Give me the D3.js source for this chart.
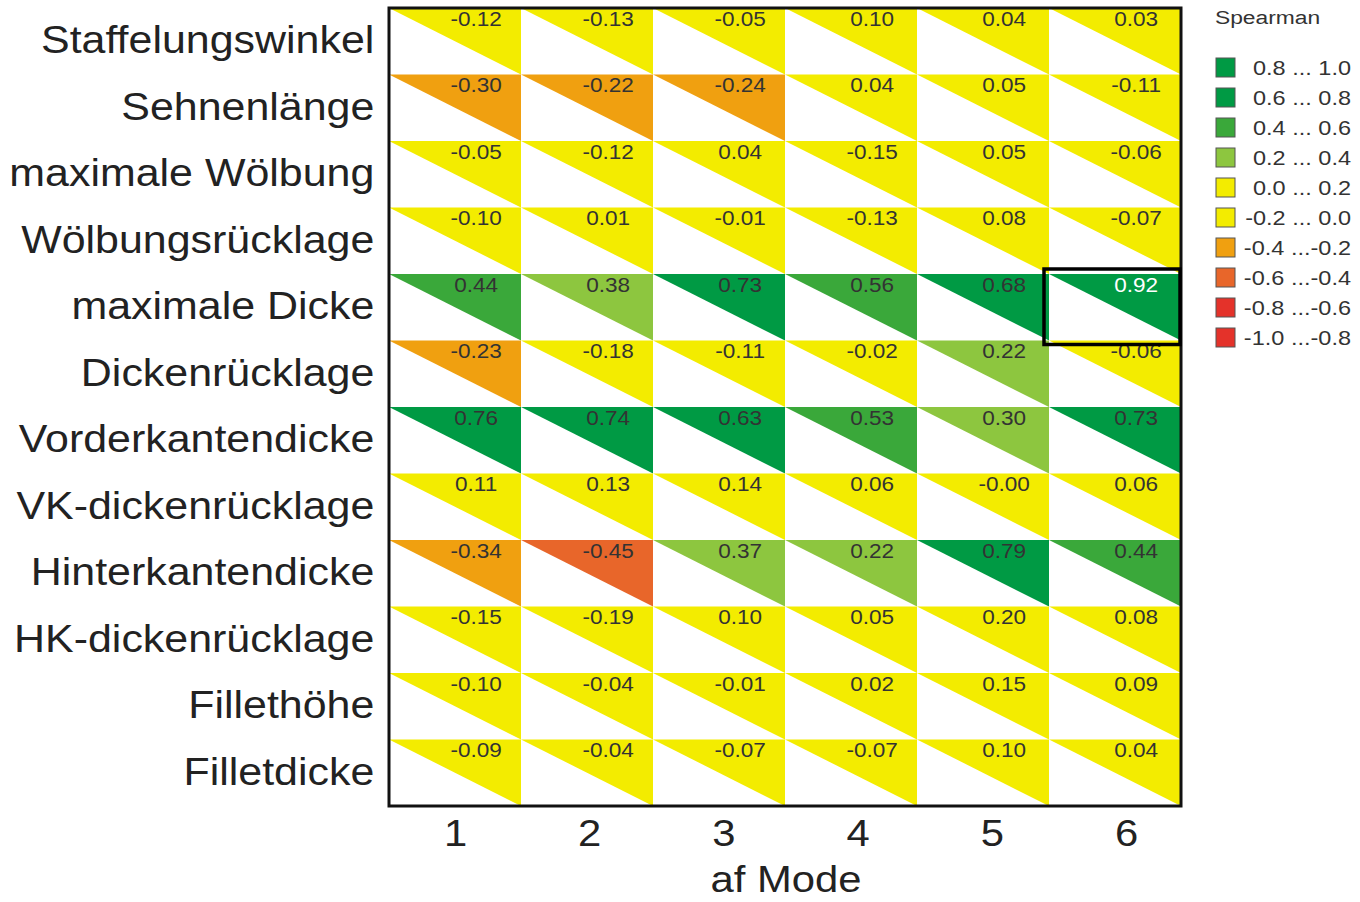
<!DOCTYPE html>
<html><head><meta charset="utf-8">
<script src="https://cdn.jsdelivr.net/npm/d3@7"></script>
<style>body{margin:0;background:#fff;}svg{display:block;font-family:"Liberation Sans",Arial,Helvetica,sans-serif;}</style>
</head><body><div id="chart"></div>
<script>
const modes = ["1","2","3","4","5","6"];
const params = ["Staffelungswinkel","Sehnenlänge","maximale Wölbung","Wölbungsrücklage","maximale Dicke","Dickenrücklage","Vorderkantendicke","VK-dickenrücklage","Hinterkantendicke","HK-dickenrücklage","Fillethöhe","Filletdicke"];
const values = [
  [-0.12,-0.13,-0.05,0.10,0.04,0.03],
  [-0.30,-0.22,-0.24,0.04,0.05,-0.11],
  [-0.05,-0.12,0.04,-0.15,0.05,-0.06],
  [-0.10,0.01,-0.01,-0.13,0.08,-0.07],
  [0.44,0.38,0.73,0.56,0.68,0.92],
  [-0.23,-0.18,-0.11,-0.02,0.22,-0.06],
  [0.76,0.74,0.63,0.53,0.30,0.73],
  [0.11,0.13,0.14,0.06,-0.00,0.06],
  [-0.34,-0.45,0.37,0.22,0.79,0.44],
  [-0.15,-0.19,0.10,0.05,0.20,0.08],
  [-0.10,-0.04,-0.01,0.02,0.15,0.09],
  [-0.09,-0.04,-0.07,-0.07,0.10,0.04]
];
const legendLabels = ["0.8 ... 1.0","0.6 ... 0.8","0.4 ... 0.6","0.2 ... 0.4","0.0 ... 0.2","-0.2 ... 0.0","-0.4 ...-0.2","-0.6 ...-0.4","-0.8 ...-0.6","-1.0 ...-0.8"];
const legendColors = ["#009a44","#009a44","#3aa83a","#8dc63f","#f3ec00","#f3ec00","#f0a010","#e8662a","#e4322a","#e4322a"];
const binUpper = [1.0,0.8,0.6,0.4,0.2,0.0,-0.2,-0.4,-0.6,-0.8];
const highlight = {row:"maximale Dicke", col:"6"};

const W=1360,H=902, SX=1.13;
const svg=d3.select("#chart").append("svg").attr("width",W).attr("height",H);
const m={l:389,r:1181,t:8,b:806};
const x=d3.scaleBand().domain(modes).range([m.l,m.r]);
const y=d3.scaleBand().domain(params).range([m.t,m.b]);
const xTick=d3.scalePoint().domain(modes).range([m.l+66,m.r-55]);
// bin: value belongs to bin whose upper bound is >= v (upper inclusive)
function color(v){
  let idx=0;
  for(let i=0;i<binUpper.length;i++){ if(v<=binUpper[i]+1e-9) idx=i; }
  return legendColors[idx];
}
const fmt=v=>(Object.is(v,-0)?"-":"")+v.toFixed(2);

const cells=[];
params.forEach((p,i)=>modes.forEach((c,j)=>cells.push({p,c,v:values[i][j]})));

const g=svg.append("g");
g.selectAll("path.tri").data(cells).join("path").attr("class","tri")
  .attr("d",d=>{const x0=x(d.c),x1=x0+x.bandwidth(),y0=y(d.p),y1=y0+y.bandwidth();return `M${x0},${y0}L${x1},${y0}L${x1},${y1}Z`;})
  .attr("fill",d=>color(d.v));
g.selectAll("text.val").data(cells).join("text").attr("class","val")
  .attr("transform",d=>`translate(${x(d.c)+x.bandwidth()*0.66},${y(d.p)+17.5}) scale(1.1,1)`)
  .attr("text-anchor","middle")
  .attr("font-size",20.5)
  .attr("fill",d=>(d.p===highlight.row&&d.c===highlight.col)?"#ffffff":"#333")
  .text(d=>fmt(d.v));

svg.append("rect").attr("x",m.l).attr("y",m.t).attr("width",m.r-m.l).attr("height",m.b-m.t)
  .attr("fill","none").attr("stroke","#111").attr("stroke-width",3);

// highlight box
svg.append("rect").attr("x",x(highlight.col)-5).attr("y",y(highlight.row)-5)
  .attr("width",x.bandwidth()+4).attr("height",y.bandwidth()+9)
  .attr("fill","none").attr("stroke","#000").attr("stroke-width",3.5);

// y axis labels
const ya=svg.append("g").attr("transform",`translate(${m.l},0)`).call(d3.axisLeft(y).tickSize(0).tickPadding(13));
ya.select(".domain").remove();
ya.selectAll("text").attr("font-size",38).attr("fill","#222").attr("font-family","Liberation Sans, Arial, sans-serif")
  .attr("transform",`scale(${SX},1)`);

// x axis
const xa=svg.append("g").attr("transform",`translate(0,${m.b})`).call(d3.axisBottom(xTick).tickSize(0).tickPadding(14));
xa.select(".domain").remove();
xa.selectAll("text").attr("font-size",37).attr("fill","#222").attr("font-family","Liberation Sans, Arial, sans-serif")
  .attr("transform",`scale(${SX},1)`);
svg.append("text").attr("transform",`translate(786,892) scale(${SX},1)`).attr("text-anchor","middle").attr("font-size",37).attr("fill","#222").text("af Mode");

// legend
const lg=svg.append("g");
lg.append("text").attr("transform",`translate(1215,24) scale(1.2,1)`).attr("font-size",19).attr("fill","#333").text("Spearman");
const li=lg.selectAll("g.li").data(legendLabels).join("g").attr("class","li")
  .attr("transform",(d,i)=>`translate(1216,${58+i*30})`);
li.append("rect").attr("width",19).attr("height",19).attr("fill",(d,i)=>legendColors[i]).attr("stroke","#555").attr("stroke-width",1);
li.append("text").attr("transform",`translate(135,17) scale(1.12,1)`).attr("text-anchor","end").attr("font-size",21).attr("fill","#333").text(d=>d);
</script></body></html>
